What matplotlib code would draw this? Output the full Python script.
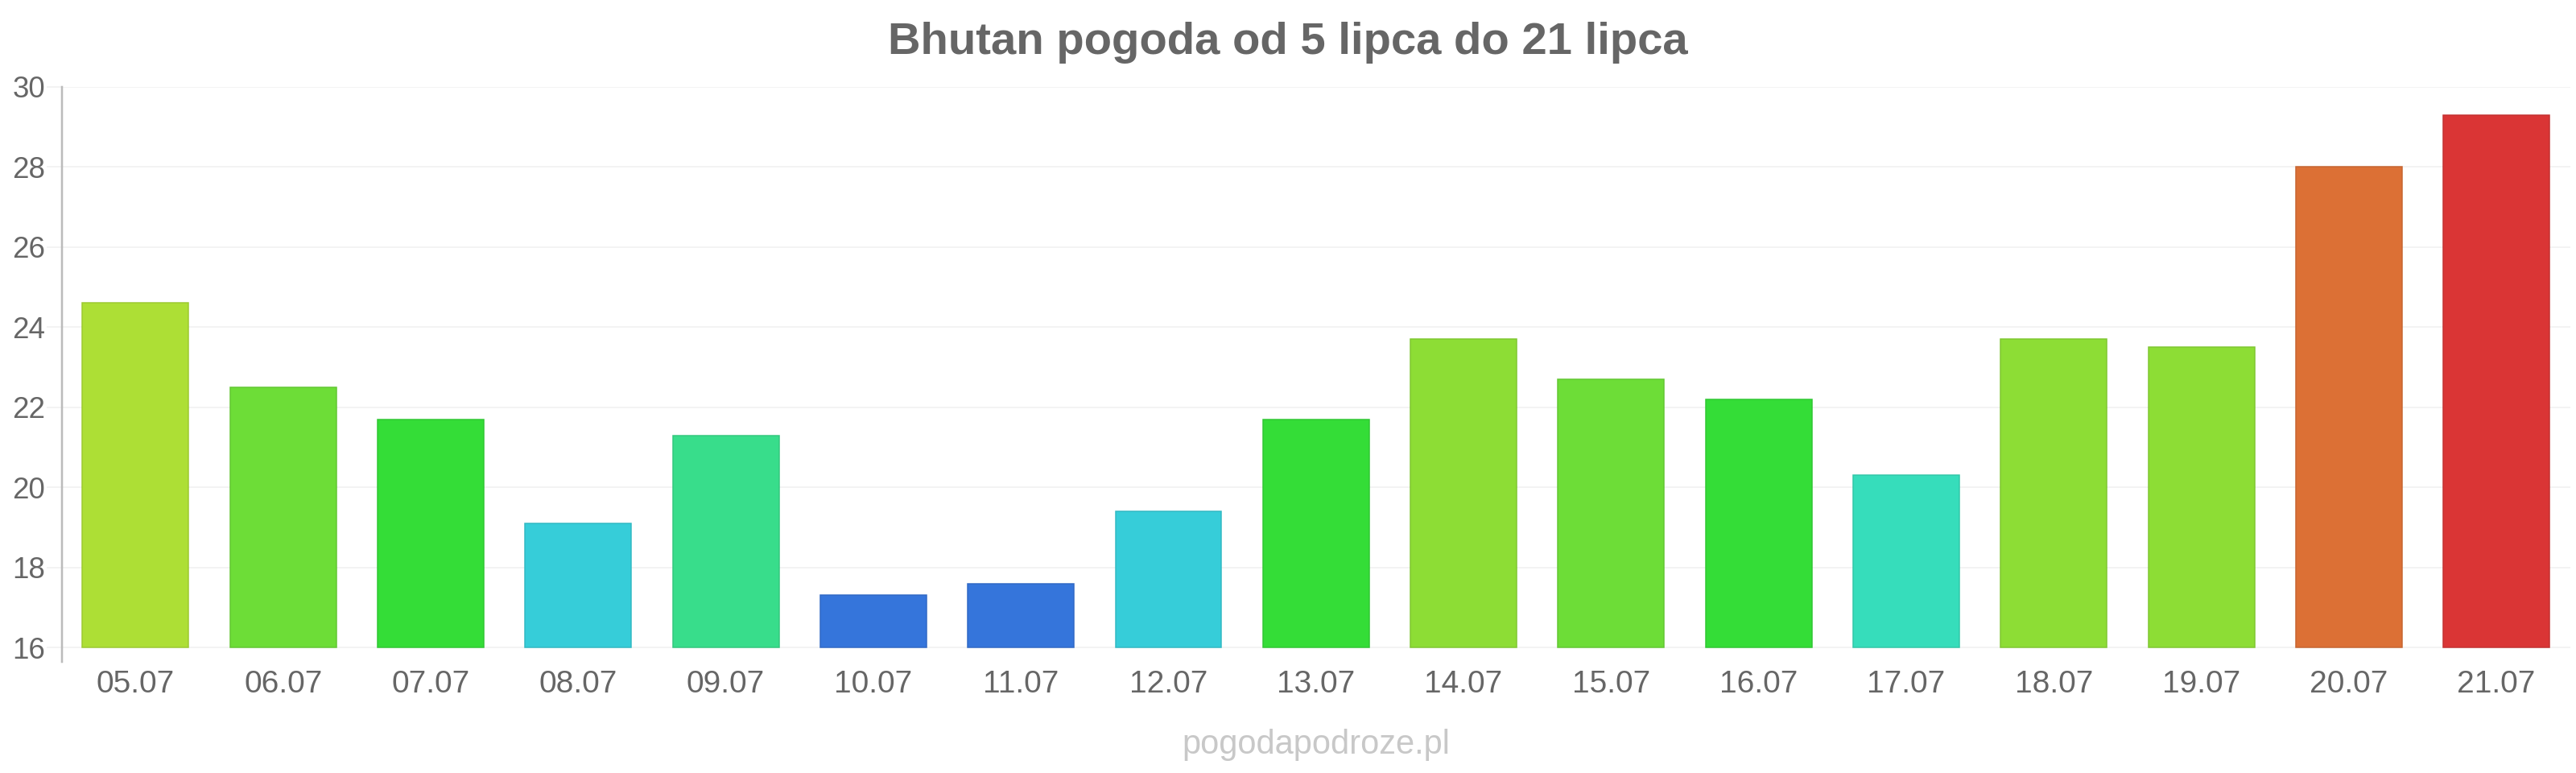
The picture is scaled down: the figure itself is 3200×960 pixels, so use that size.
import numpy as np
import matplotlib.pyplot as plt
from matplotlib.colors import to_rgb

plt.rcParams["font.family"] = ["Liberation Sans", "DejaVu Sans"]

# Data
days = ["05.07", "06.07", "07.07", "08.07", "09.07", "10.07", "11.07", "12.07", "13.07",
        "14.07", "15.07", "16.07", "17.07", "18.07", "19.07", "20.07", "21.07"]
temps = [24.6, 22.5, 21.7, 19.1, 21.3, 17.3, 17.6, 19.4, 21.7,
         23.7, 22.7, 22.2, 20.3, 23.7, 23.5, 28.0, 29.3]
colors = ["#addf35", "#6ddd37", "#34dd37", "#36cdd9", "#38dd8b", "#3575db", "#3575db",
          "#36cdd9", "#34dd37", "#8ddd35", "#6ddd37", "#34dd37", "#36ddbb", "#8ddd35",
          "#8ddd35", "#dc7035", "#da3535"]
yticks = [16, 18, 20, 22, 24, 26, 28, 30]

grey = "#666666"
px = 0.72  # one pixel in points at dpi 100
edges = [tuple(c * 0.9 for c in to_rgb(col)) for col in colors]

fig = plt.figure(figsize=(32, 9.6), dpi=100)
ax = fig.add_axes([0.024, 0.14375, 0.97375, 0.74375])

x = np.arange(len(days))
base = yticks[0]
ax.bar(x, np.array(temps) - base, bottom=base, width=0.72, color=colors,
       edgecolor=edges, linewidth=1.5 * px, zorder=3)

ax.set_xlim(-0.5, len(days) - 0.5)
ax.set_ylim(base - 0.36, yticks[-1])
ax.set_yticks(yticks)
ax.set_xticks(x)
ax.set_xticklabels(days)

ax.grid(axis="y", color="#f3f3f3", linewidth=2 * px, zorder=0)
ax.tick_params(axis="y", length=19 * px, width=2 * px, color="#f3f3f3", labelsize=26.5,
               labelcolor=grey, pad=2 * px)
ax.tick_params(axis="x", length=0, labelsize=28, labelcolor=grey, pad=7)

for side in ["top", "right", "bottom"]:
    ax.spines[side].set_visible(False)
ax.spines["left"].set_color("#bbbbbb")
ax.spines["left"].set_linewidth(2.5 * px)

fig.text(0.5, 1 - 53 / 960, "Bhutan pogoda od 5 lipca do 21 lipca", ha="center",
         va="center", fontsize=40.5, fontweight="bold", color=grey)
fig.text(0.511, 1 - 925 / 960, "pogodapodroze.pl", ha="center", va="center",
         fontsize=30, color="#c8c8c8")

fig.savefig("out.png", dpi=100)
